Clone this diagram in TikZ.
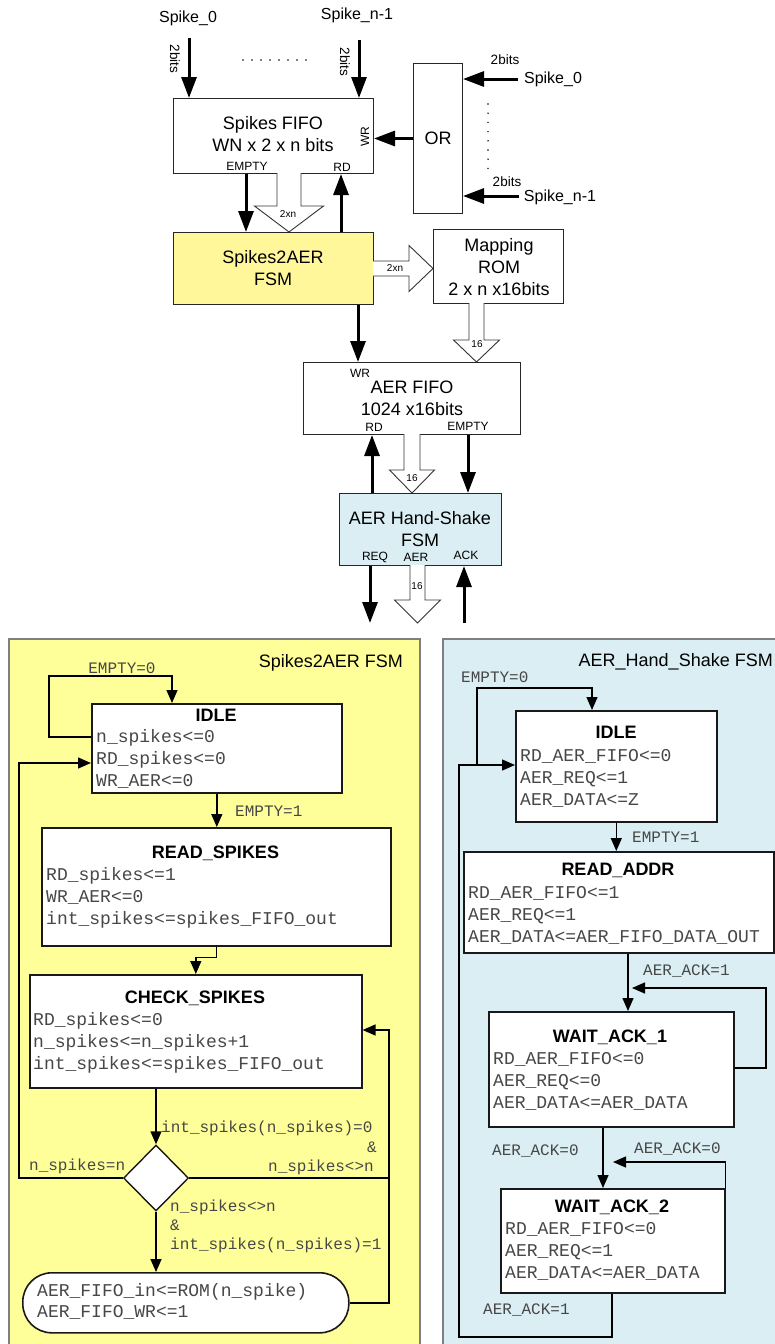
\documentclass[tikz,border=0pt]{standalone}
\usepackage{fontspec}
\setmainfont{Liberation Sans}
\setmonofont{Liberation Mono}
\usetikzlibrary{arrows.meta,shapes.geometric}

\definecolor{fsmyellow}{HTML}{FFFF99}
\definecolor{boxyellow}{HTML}{FFF799}
\definecolor{fsmblue}{HTML}{DAEEF3}
\definecolor{panelgray}{HTML}{7F7F7F}

\tikzset{
  blk/.style={draw=black!85, line width=1pt, anchor=north west, inner sep=0pt, fill=white},
  big/.style={font=\fontsize{18}{22}\selectfont, align=center, inner sep=0pt},
  spk/.style={font=\fontsize{16}{19}\selectfont, inner sep=0pt},
  bits/.style={font=\fontsize{13.5}{16}\selectfont, inner sep=0pt},
  port/.style={font=\fontsize{12}{14}\selectfont, inner sep=0pt},
  tiny/.style={font=\fontsize{10}{12}\selectfont, inner sep=0pt},
  bus/.style={line width=3pt, -{Triangle[length=21pt,width=15pt]}},
  hollow/.style={draw=black!80, line width=0.9pt, fill=white},
  panel/.style={draw=panelgray, line width=1.8pt, anchor=north west, inner sep=0pt},
  state/.style={draw=black!90, line width=1.6pt, fill=white, anchor=north west, inner sep=0pt},
  sttitle/.style={font=\bfseries\fontsize{18}{22}\selectfont, anchor=base, inner sep=0pt},
  stline/.style={font=\ttfamily\fontsize{18}{22}\selectfont, text=black!72, anchor=base west, inner sep=0pt},
  cond/.style={font=\ttfamily\fontsize{16}{20}\selectfont, text=black!72, inner sep=0pt},
  tr/.style={line width=1.4pt, -{Triangle[length=13pt,width=11pt]}},
  wire/.style={line width=1.4pt},
}

% action lines of a state: name, left x, first baseline y, list of lines
\newcommand\stlines[4]{%
  \foreach \lineitem [count=\k] in {#4}{%
    \node[stline] (#1-l\k) at (#2,{#3+22*(\k-1)}) {\lineitem};}}
% hollow bus arrow pointing down: centre x, top y, neck y, tip y, half shaft, half head
\newcommand\hdown[6]{%
  \draw[hollow] ({#1-#5},#2) -- ({#1-#5},#3) -- ({#1-#6},#3) -- (#1,#4)
    -- ({#1+#6},#3) -- ({#1+#5},#3) -- ({#1+#5},#2);}
% hollow bus arrow pointing right: centre y, left x, neck x, tip x, half shaft, half head
\newcommand\hright[6]{%
  \draw[hollow] (#2,{#1-#5}) -- (#3,{#1-#5}) -- (#3,{#1-#6}) -- (#4,#1)
    -- (#3,{#1+#6}) -- (#3,{#1+#5}) -- (#2,{#1+#5});}

\begin{document}
\begin{tikzpicture}[x=1pt,y=-1pt]
\useasboundingbox (0,0) rectangle (774,1344);

% ---------------- block diagram ----------------
\node[blk, minimum width=200pt, minimum height=75pt] (fifo) at (173,98) {};
\node[big] (fifotxt) at (273,134) {Spikes FIFO\\WN x 2 x n bits};
\node[blk, minimum width=49pt, minimum height=150pt] (orbox) at (413,63) {};
\node[big] (ortxt) at (orbox.center) {OR};
\node[blk, fill=boxyellow, minimum width=200pt, minimum height=72pt] (s2a) at (173,232) {};
\node[big] (s2atxt) at (273,268) {Spikes2AER\\FSM};
\node[blk, minimum width=130pt, minimum height=74pt] (rom) at (433,229) {};
\node[big] (romtxt) at (499,267) {Mapping\\ROM\\2 x n x16bits};
\node[blk, minimum width=217pt, minimum height=72pt] (aerfifo) at (303,362) {};
\node[big] (aerfifotxt) at (412,398) {AER FIFO\\1024 x16bits};
\node[blk, fill=fsmblue, minimum width=162pt, minimum height=72pt] (hs) at (339,493) {};
\node[big] (hstxt) at (420,529) {AER Hand-Shake\\FSM};

% port names
\node[port] (fifoempty) at (247,166) {EMPTY};
\node[port] (fiford) at (342,167) {RD};
\node[port, rotate=90] (fifowr) at (365,137) {WR};
\node[port] (aerwr) at (360,373) {WR};
\node[port] (aerrd) at (374,427) {RD};
\node[port] (aerempty) at (468,426) {EMPTY};
\node[port] (hsreq) at (375,557) {REQ};
\node[port] (hsaer) at (416,557) {AER};
\node[port] (hsack) at (466,555) {ACK};

% spike inputs
\node[spk] (sp0t) at (188,18) {Spike\_0};
\node[spk] (spnt) at (357,15) {Spike\_n-1};
\node[spk] (sp0r) at (553,79) {Spike\_0};
\node[spk] (spnr) at (560,197) {Spike\_n-1};
\node[bits, rotate=-90] (b0t) at (175,59) {2bits};
\node[bits, rotate=-90] (bnt) at (345,62) {2bits};
\node[bits] (b0r) at (505,60) {2bits};
\node[bits] (bnr) at (507,182) {2bits};
\foreach \i in {0,...,7} \fill (243+9*\i,60) circle (0.8);
\foreach \i in {0,...,7} \fill (488,104+9.2*\i) circle (0.8);

\coordinate (sp0in) at (189,38);
\coordinate (spnin) at (359,40);
\coordinate (or0in) at (518,79);
\coordinate (ornin) at (519,196);
\coordinate (reqout) at (370,623);
\coordinate (ackin) at (464,623);

\draw[bus] (sp0in) -- (sp0in |- fifo.north);
\draw[bus] (spnin) -- (spnin |- fifo.north);
\draw[bus] (or0in) -- (or0in -| orbox.east);
\draw[bus] (ornin) -- (ornin -| orbox.east);
\draw[bus] (orbox.west) -- (orbox.west -| fifo.east);
\draw[bus] ([xshift=73pt]fifo.south west) -- ([xshift=73pt]s2a.north west);
\draw[bus] ([xshift=168pt]s2a.north west) -- ([xshift=168pt]fifo.south west);
\draw[bus] ([xshift=185pt]s2a.south west) -- ([xshift=55pt]aerfifo.north west);
\draw[bus] ([xshift=33pt]hs.north west) -- ([xshift=69pt]aerfifo.south west);
\draw[bus] ([xshift=165pt]aerfifo.south west) -- ([xshift=129pt]hs.north west);
\draw[bus] ([xshift=31pt]hs.south west) -- (reqout);
\draw[bus] (ackin) -- ([xshift=125pt]hs.south west);

% wide data buses
\hdown{289}{173}{206}{232}{12}{34.5}
\node[tiny] (bus1) at (288,214) {2xn};
\hright{268.5}{373}{409}{433}{7.5}{23}
\node[tiny] (bus2) at (395,268) {2xn};
\hdown{476.5}{303}{340}{362}{7.5}{23}
\node[tiny] (bus3) at (477,344) {16};
\hdown{412}{434}{470}{493}{8}{22.5}
\node[tiny] (bus4) at (412,478) {16};
\hdown{417.5}{565}{600}{623}{7.5}{23}
\node[tiny] (bus5) at (417,586) {16};

% ---------------- state machine panels ----------------
\node[panel, fill=fsmyellow, minimum width=411pt, minimum height=730pt] (lpanel) at (8,638) {};
\node[panel, fill=fsmblue, minimum width=350pt, minimum height=730pt] (rpanel) at (442,638) {};
\node[big, anchor=base east] (ltitle) at (403,667) {Spikes2AER FSM};
\node[big, anchor=base east] (rtitle) at (773,666) {AER\_Hand\_Shake FSM};

% Spikes2AER FSM
\node[state, minimum width=250pt, minimum height=89pt] (idleA) at (91,703) {};
\node[sttitle] (idleAt) at (216,721) {IDLE};
\stlines{idleA}{96}{742}{n\_spikes<=0,RD\_spikes<=0,WR\_AER<=0}
\node[state, minimum width=349pt, minimum height=118pt] (readA) at (41,827) {};
\node[sttitle] (readAt) at (215.5,858) {READ\_SPIKES};
\stlines{readA}{46}{880}{RD\_spikes<=1,WR\_AER<=0,int\_spikes<=spikes\_FIFO\_out}
\node[state, minimum width=332pt, minimum height=113pt] (checkA) at (29,974) {};
\node[sttitle] (checkAt) at (195,1003) {CHECK\_SPIKES};
\stlines{checkA}{33}{1025}{RD\_spikes<=0,n\_spikes<=n\_spikes+1,int\_spikes<=spikes\_FIFO\_out}
\node[diamond, draw=black!90, line width=1.4pt, fill=white, minimum width=65pt,
      minimum height=66pt, inner sep=0pt] (dec) at (156,1178) {};
\node[state, rounded corners=29pt, minimum width=326pt, minimum height=60pt] (wrA) at (22,1272) {};
\node[stline] (wrA-l1) at (37,1296) {AER\_FIFO\_in<=ROM(n\_spike)};
\node[stline] (wrA-l2) at (37,1317) {AER\_FIFO\_WR<=1};

\coordinate (jr) at (389,1178);
\coordinate (jrtop) at (389,1030);
\draw[tr] ([yshift=-34pt]idleA.north west) -- (49,737) -- (49,676) -- (172,676)
  -- ([xshift=81pt]idleA.north west);
\draw[tr] (idleA.south) -- (idleA.south |- readA.north);
\draw[tr] (readA.south) -- ++(0,11) -| (checkA.north);
\draw[tr] (checkA.south -| dec.north) -- (dec.north);
\draw[tr] (dec.west) -- (19,1178) -- (19,763) -- ([yshift=-60pt]idleA.north west);
\draw[tr] (dec.east) -- (jr) -- (jrtop) -- (checkA.east |- jrtop);
\draw[wire] (wrA.east) -- (wrA.east -| jr) -- (jr);
\draw[tr] (dec.south) -- (dec.south |- wrA.north);

\node[cond, anchor=base] (cA1) at (122,673) {EMPTY=0};
\node[cond, anchor=base west] (cA2) at (235,816) {EMPTY=1};
\node[cond, anchor=base west] (cA3) at (161,1132) {int\_spikes(n\_spikes)=0};
\node[cond, anchor=base west] (cA4) at (367,1152) {\&};
\node[cond, anchor=base east] (cA5) at (374,1171) {n\_spikes<>n};
\node[cond, anchor=base west] (cA6) at (29,1170) {n\_spikes=n};
\node[cond, anchor=base west] (cA7) at (170,1211) {n\_spikes<>n};
\node[cond, anchor=base west] (cA8) at (170,1230) {\&};
\node[cond, anchor=base west] (cA9) at (170,1249) {int\_spikes(n\_spikes)=1};

% AER_Hand_Shake FSM
\node[state, minimum width=201pt, minimum height=111pt] (idleB) at (515,710) {};
\node[sttitle] (idleBt) at (616,738) {IDLE};
\stlines{idleB}{520}{761}{RD\_AER\_FIFO<=0,AER\_REQ<=1,AER\_DATA<=Z}
\node[state, minimum width=310pt, minimum height=101pt] (readB) at (463,851) {};
\node[sttitle] (readBt) at (618,875) {READ\_ADDR};
\stlines{readB}{468}{898}{RD\_AER\_FIFO<=1,AER\_REQ<=1,AER\_DATA<=AER\_FIFO\_DATA\_OUT}
\node[state, minimum width=245pt, minimum height=115pt] (waitA) at (488,1011) {};
\node[sttitle] (waitAt) at (610,1042) {WAIT\_ACK\_1};
\stlines{waitA}{493}{1064}{RD\_AER\_FIFO<=0,AER\_REQ<=0,AER\_DATA<=AER\_DATA}
\node[state, minimum width=224pt, minimum height=104pt] (waitB) at (500,1188) {};
\node[sttitle] (waitBt) at (612,1212) {WAIT\_ACK\_2};
\stlines{waitB}{505}{1234}{RD\_AER\_FIFO<=0,AER\_REQ<=1,AER\_DATA<=AER\_DATA}

\coordinate (loopB) at (477,765);
\coordinate (ack1end) at (632,988);
\coordinate (ack2end) at (613,1162);
\draw[tr] (loopB) |- (592,688) -- ([xshift=77pt]idleB.north west);
\draw[tr] (idleB.south) -- (idleB.south |- readB.north);
\draw[tr] ([xshift=165pt]readB.south west) -- ([xshift=140pt]waitA.north west);
\draw[tr] ([yshift=-57pt]waitA.north east) -- (766,1068) -- (766,988) -- (ack1end);
\draw[tr] ([xshift=115pt]waitA.south west) -- ([xshift=103pt]waitB.north west);
\draw[tr] (waitB.north east) -- (waitB.north east |- ack2end) -- (ack2end);
\draw[tr] ([xshift=112pt]waitB.south west) -- (612,1337) -- (459,1337) -- (459,765)
  -- ([yshift=-55pt]idleB.north west);

\node[cond, anchor=base west] (cB1) at (461,682) {EMPTY=0};
\node[cond, anchor=base west] (cB2) at (632,842) {EMPTY=1};
\node[cond, anchor=base west] (cB3) at (643,975) {AER\_ACK=1};
\node[cond, anchor=base west] (cB4) at (492,1155) {AER\_ACK=0};
\node[cond, anchor=base west] (cB5) at (634,1153) {AER\_ACK=0};
\node[cond, anchor=base west] (cB6) at (483,1314) {AER\_ACK=1};
\end{tikzpicture}
\end{document}
